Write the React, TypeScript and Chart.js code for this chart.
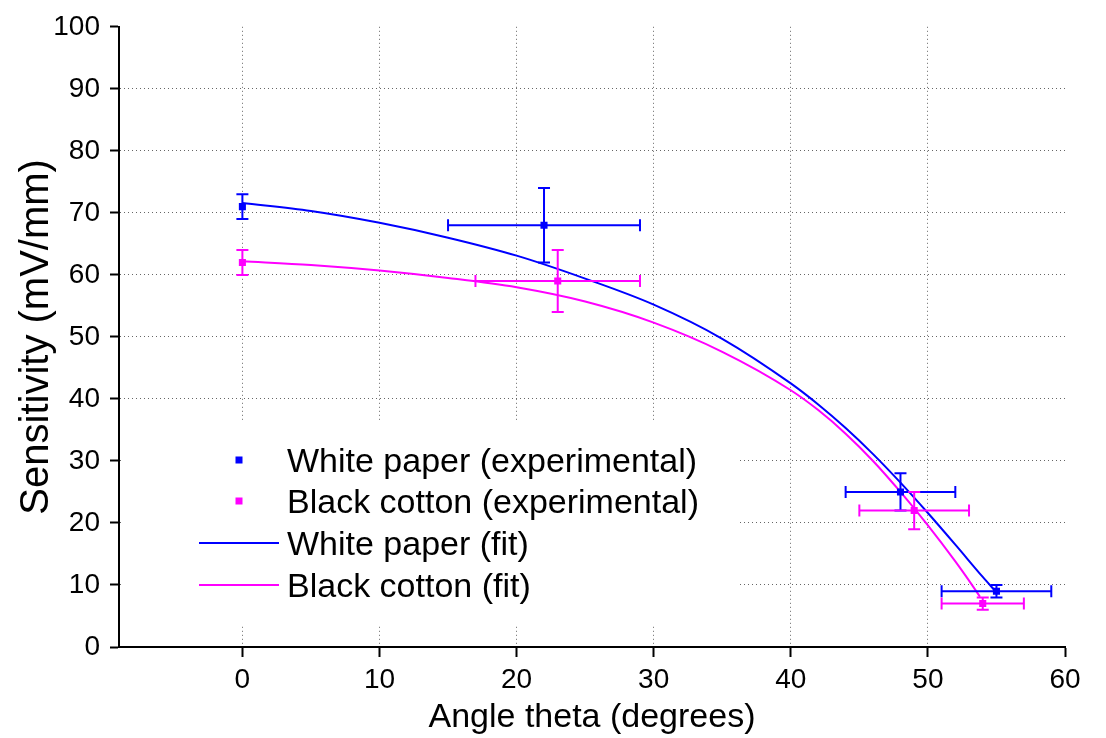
import { useEffect, useRef } from "react";
import { Chart, registerables } from "chart.js";

Chart.register(...registerables);

const FONT = "'Liberation Sans', Arial, Helvetica, sans-serif";
const BLUE = "#0000ff";
const MAGENTA = "#ff00ff";

// Axis ticks
const xTickValues = [0, 10, 20, 30, 40, 50, 60];
const yTickValues = [0, 10, 20, 30, 40, 50, 60, 70, 80, 90, 100];

// Measured sensitivity, white paper
const whiteAngle = [0, 22, 48, 55];
const whiteSens = [71, 68, 25, 9];
const whiteAngleErr = [0, 7, 4, 4];
const whiteSensErr = [2, 6, 3, 1];

// Measured sensitivity, black cotton
const cottonAngle = [0, 23, 49, 54];
const cottonSens = [62, 59, 22, 7];
const cottonAngleErr = [0, 6, 4, 3];
const cottonSensErr = [2, 5, 3, 1];

// Fitted curves
const whiteFitAngle = [0, 5, 10, 15, 20, 25, 30, 35, 40, 42, 44, 46, 48, 50, 52, 54, 55];
const whiteFitSens = [71.6, 70.3, 68.4, 66.0, 63.1, 59.4, 55.2, 49.7, 42.5, 39.1, 35.3, 31.1, 26.5, 21.6, 16.5, 11.3, 8.8];
const cottonFitAngle = [0, 5, 10, 15, 20, 25, 30, 35, 40, 42, 44, 46, 48, 50, 52, 53, 53.8];
const cottonFitSens = [62.2, 61.6, 60.7, 59.5, 58.0, 55.7, 52.3, 47.6, 41.4, 38.2, 34.4, 30.0, 25.0, 19.6, 13.8, 10.7, 8.1];

const toPoints = (xs: number[], ys: number[]) => xs.map((x, i) => ({ x, y: ys[i] }));

// Draws horizontal and vertical error bars with end caps for datasets carrying error arrays
const errorBarPlugin = {
  id: "errorBars",
  afterDatasetsDraw(chart: any) {
    const { ctx, scales } = chart;
    const xs = scales.x;
    const ys = scales.y;
    const cap = 6;
    chart.data.datasets.forEach((ds: any) => {
      if (!ds.xErr || !ds.yErr) return;
      ctx.save();
      ctx.strokeStyle = ds.backgroundColor;
      ctx.lineWidth = 2;
      ds.data.forEach((p: any, i: number) => {
        const px = xs.getPixelForValue(p.x);
        const py = ys.getPixelForValue(p.y);
        const ex = ds.xErr[i];
        const ey = ds.yErr[i];
        ctx.beginPath();
        if (ex > 0) {
          const x1 = xs.getPixelForValue(p.x - ex);
          const x2 = xs.getPixelForValue(p.x + ex);
          ctx.moveTo(x1, py);
          ctx.lineTo(x2, py);
          ctx.moveTo(x1, py - cap);
          ctx.lineTo(x1, py + cap);
          ctx.moveTo(x2, py - cap);
          ctx.lineTo(x2, py + cap);
        }
        if (ey > 0) {
          const y1 = ys.getPixelForValue(p.y - ey);
          const y2 = ys.getPixelForValue(p.y + ey);
          ctx.moveTo(px, y1);
          ctx.lineTo(px, y2);
          ctx.moveTo(px - cap, y1);
          ctx.lineTo(px + cap, y1);
          ctx.moveTo(px - cap, y2);
          ctx.lineTo(px + cap, y2);
        }
        ctx.stroke();
      });
      ctx.restore();
    });
  },
};

// Legend drawn inside the plot on a white panel
const legendPanelPlugin = {
  id: "legendPanel",
  afterDraw(chart: any) {
    const { ctx } = chart;
    const panel = { x: 121, y: 422, w: 617, h: 202 };
    const rowY = [460, 501, 543, 585];
    ctx.save();
    ctx.fillStyle = "#ffffff";
    ctx.fillRect(panel.x, panel.y, panel.w, panel.h);
    ctx.font = `34px ${FONT}`;
    ctx.textAlign = "left";
    ctx.textBaseline = "alphabetic";
    chart.data.datasets.forEach((ds: any, i: number) => {
      const y = rowY[i];
      if (ds.showLine) {
        ctx.strokeStyle = ds.borderColor;
        ctx.lineWidth = 2;
        ctx.beginPath();
        ctx.moveTo(199, y);
        ctx.lineTo(279, y);
        ctx.stroke();
      } else {
        ctx.fillStyle = ds.backgroundColor;
        ctx.fillRect(239 - 3.5, y - 3.5, 7, 7);
      }
      ctx.fillStyle = "#000000";
      ctx.fillText(ds.label, 287, y + 12);
    });
    ctx.restore();
  },
};

export default function App() {
  const canvasRef = useRef<HTMLCanvasElement>(null);

  useEffect(() => {
    document.body.style.margin = "0";
    const canvas = canvasRef.current;
    if (!canvas) return;

    const gridColor = (hidden: number) => (c: any) =>
      c.tick && c.tick.value === hidden ? "rgba(0,0,0,0)" : "#666666";

    const chart = new Chart(canvas, {
      type: "scatter",
      data: {
        datasets: [
          {
            label: "White paper (experimental)",
            data: toPoints(whiteAngle, whiteSens),
            xErr: whiteAngleErr,
            yErr: whiteSensErr,
            backgroundColor: BLUE,
            borderColor: BLUE,
            pointStyle: "rect",
            pointRadius: 5,
            borderWidth: 0,
            order: 0,
          } as any,
          {
            label: "Black cotton (experimental)",
            data: toPoints(cottonAngle, cottonSens),
            xErr: cottonAngleErr,
            yErr: cottonSensErr,
            backgroundColor: MAGENTA,
            borderColor: MAGENTA,
            pointStyle: "rect",
            pointRadius: 5,
            borderWidth: 0,
            order: 0,
          } as any,
          {
            label: "White paper (fit)",
            data: toPoints(whiteFitAngle, whiteFitSens),
            showLine: true,
            borderColor: BLUE,
            backgroundColor: BLUE,
            borderWidth: 2,
            pointRadius: 0,
            cubicInterpolationMode: "monotone",
            order: 1,
          } as any,
          {
            label: "Black cotton (fit)",
            data: toPoints(cottonFitAngle, cottonFitSens),
            showLine: true,
            borderColor: MAGENTA,
            backgroundColor: MAGENTA,
            borderWidth: 2,
            pointRadius: 0,
            cubicInterpolationMode: "monotone",
            order: 1,
          } as any,
        ],
      },
      options: {
        responsive: false,
        animation: false,
        devicePixelRatio: 1,
        layout: { padding: { top: 22, right: 41, left: 0, bottom: 0 } },
        plugins: {
          legend: { display: false },
          tooltip: { enabled: false },
        },
        scales: {
          x: {
            type: "linear",
            min: -9,
            max: 60,
            afterBuildTicks: (s: any) => {
              s.ticks = xTickValues.map((v) => ({ value: v }));
            },
            afterFit: (s: any) => {
              s.height = 91;
            },
            grid: {
              color: gridColor(60),
              lineWidth: 1,
              tickColor: "#000000",
              tickWidth: 2,
              tickLength: 10,
            },
            border: { display: true, color: "#000000", width: 2, dash: [1, 3] },
            ticks: {
              color: "#000000",
              font: { family: FONT, size: 28 },
              padding: 6,
              maxRotation: 0,
              autoSkip: false,
            },
            title: {
              display: true,
              text: "Angle theta (degrees)",
              color: "#000000",
              font: { family: FONT, size: 34 },
              padding: { top: 0, bottom: 0 },
            },
          },
          y: {
            type: "linear",
            min: 0,
            max: 100,
            afterBuildTicks: (s: any) => {
              s.ticks = yTickValues.map((v) => ({ value: v }));
            },
            afterFit: (s: any) => {
              s.width = 119;
            },
            grid: {
              color: gridColor(100),
              lineWidth: 1,
              tickColor: "#000000",
              tickWidth: 2,
              tickLength: 9,
            },
            border: { display: true, color: "#000000", width: 2, dash: [1, 3] },
            ticks: {
              color: "#000000",
              font: { family: FONT, size: 28 },
              padding: 10,
              autoSkip: false,
            },
            title: {
              display: true,
              text: "Sensitivity (mV/mm)",
              color: "#000000",
              font: { family: FONT, size: 40 },
              padding: { top: 13, bottom: 0 },
            },
          },
        },
      } as any,
      plugins: [errorBarPlugin, legendPanelPlugin],
    });

    return () => chart.destroy();
  }, []);

  return <canvas ref={canvasRef} width={1106} height={738} style={{ display: "block" }} />;
}
